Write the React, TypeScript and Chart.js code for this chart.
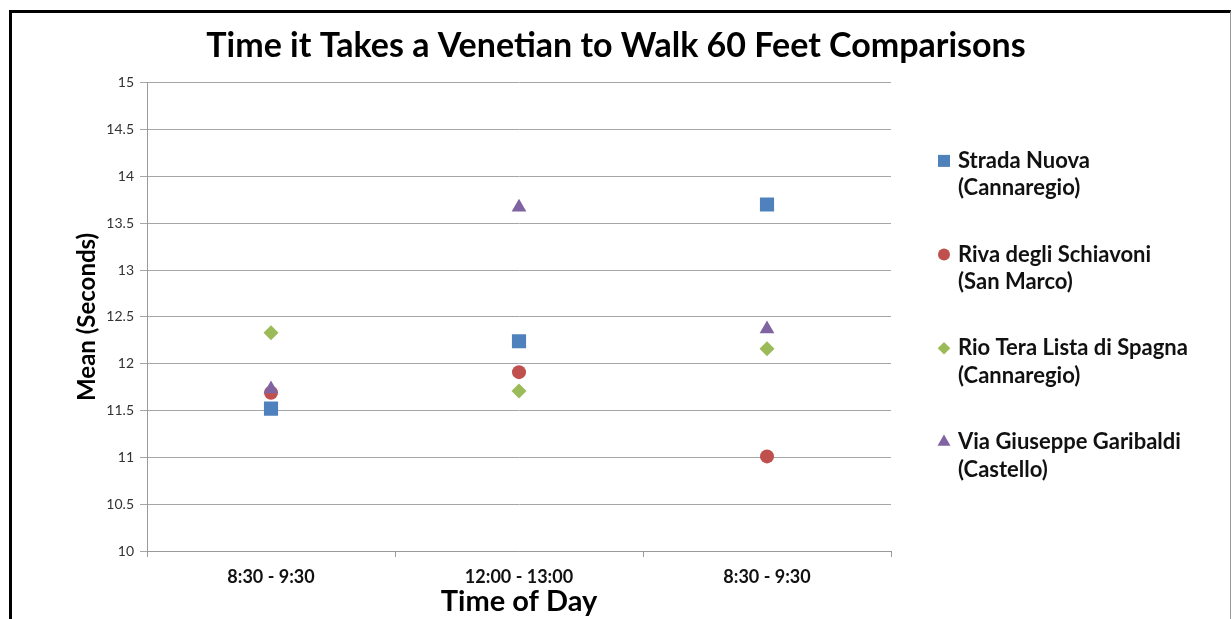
import React, { useEffect, useRef } from 'react';
import { Chart, registerables } from 'chart.js';
import { drawPoint } from 'chart.js/helpers';

Chart.register(...registerables);

// ---- data ----
const categories = ['8:30 - 9:30', '12:00 - 13:00', '8:30 - 9:30'];
const stradaNuova = [11.52, 12.24, 13.7];
const rivaSchiavoni = [11.69, 11.91, 11.01];
const rioTera = [12.33, 11.71, 12.16];
const viaGaribaldi = [11.73, 13.67, 12.37];
const seriesLines = [
  ['Strada Nuova', '(Cannaregio)'],
  ['Riva degli Schiavoni', '(San Marco)'],
  ['Rio Tera Lista di Spagna', '(Cannaregio)'],
  ['Via Giuseppe Garibaldi', '(Castello)'],
];
const yMin = 10;
const yMax = 15;
const yStep = 0.5;

const titleText = 'Time it Takes a Venetian to Walk 60 Feet Comparisons';
const yTitle = 'Mean (Seconds)';
const xTitle = 'Time of Day';

const FONT = 'Lato, "Open Sans", sans-serif';
const colors = ['#4F81BD', '#C0504D', '#9BBB59', '#8064A2'];
const styles = ['rect', 'circle', 'rectRot', 'triangle'];
const markerRadius = [10, 7, 7.5, 8.5];
const legendRadius = [8.5, 6, 6.3, 7.5];

const sideLegend = {
  id: 'sideLegend',
  afterDraw(chart: any) {
    const { ctx, chartArea } = chart;
    ctx.save();
    const x = chartArea.right + 53;
    const cy = (chartArea.top + chartArea.bottom) / 2;
    chart.data.datasets.forEach((ds: any, i: number) => {
      const y = cy - 156 + i * 93.7;
      ctx.fillStyle = ds.backgroundColor;
      drawPoint(ctx, { pointStyle: ds.pointStyle, radius: legendRadius[i], borderWidth: 0, rotation: 0 } as any, x, y);
      ctx.fillStyle = '#111';
      ctx.font = `bold 22px ${FONT}`;
      ctx.textBaseline = 'middle';
      ctx.textAlign = 'left';
      const lines = seriesLines[i];
      lines.forEach((ln, k) => ctx.fillText(ln, x + 14, y + k * 27.5));
    });
    ctx.restore();
  },
};

export default function App() {
  const ref = useRef<HTMLCanvasElement>(null);
  useEffect(() => {
    if (!ref.current) return;
    const series = [stradaNuova, rivaSchiavoni, rioTera, viaGaribaldi];
    const chart = new Chart(ref.current, {
      type: 'line',
      data: {
        labels: categories,
        datasets: series.map((d, i) => ({
          label: seriesLines[i].join(' '),
          data: d,
          order: series.length - 1 - i,
          showLine: false,
          pointStyle: styles[i] as any,
          pointRadius: markerRadius[i],
          pointBorderWidth: 0,
          backgroundColor: colors[i],
          borderColor: colors[i],
          pointBackgroundColor: colors[i],
        })),
      },
      options: {
        responsive: false,
        animation: false,
        layout: { padding: 0 },
        plugins: {
          legend: { display: false },
          tooltip: { enabled: false },
          title: {
            display: true,
            text: titleText,
            color: '#000',
            font: { family: FONT, size: 34, weight: 'bold' },
            padding: { top: 26, bottom: 16 },
          },
        },
        scales: {
          x: {
            type: 'category',
            offset: true,
            grid: { offset: true, drawOnChartArea: false, drawTicks: true, tickLength: 6, color: '#9a9a9a' },
            border: { display: true, color: '#9a9a9a' },
            ticks: { color: '#111', font: { family: FONT, size: 18, weight: 'bold' }, padding: 9, maxRotation: 0 },
            title: { display: true, text: xTitle, color: '#000', font: { family: FONT, size: 29, weight: 'bold' }, padding: { top: 0, bottom: 0 } },
            afterFit: (s: any) => { s.height = 68; },
          },
          y: {
            type: 'linear',
            min: yMin,
            max: yMax,
            ticks: {
              stepSize: yStep,
              color: '#333',
              font: { family: FONT, size: 14 },
              padding: 6,
              callback: (v: any) => String(Number(v)),
            },
            grid: { color: '#a6a6a6', tickLength: 7 },
            border: { display: true, color: '#9a9a9a' },
            title: { display: true, text: yTitle, color: '#000', font: { family: FONT, size: 24, weight: 'bold' }, padding: { top: 73, bottom: 0 } },
            afterFit: (s: any) => { s.width = 147; },
          },
          spacer: {
            type: 'linear',
            position: 'right',
            display: true,
            grid: { display: false },
            border: { display: false },
            ticks: { display: false },
            afterFit: (s: any) => { s.width = 341; },
          },
        },
      },
      plugins: [sideLegend],
    });
    return () => chart.destroy();
  }, []);

  return (
    <div style={{ position: 'fixed', left: 0, top: 0, width: 1232, height: 619, background: '#fff', overflow: 'hidden' }}>
      <div
        style={{
          position: 'absolute',
          left: 9,
          top: 10,
          width: 1218,
          height: 700,
          borderLeft: '3px solid #000',
          borderTop: '3px solid #000',
          borderRight: '1px solid #9a9a9a',
        }}
      />
      <canvas ref={ref} width={1232} height={619} style={{ position: 'absolute', left: 0, top: 0 }} />
    </div>
  );
}
